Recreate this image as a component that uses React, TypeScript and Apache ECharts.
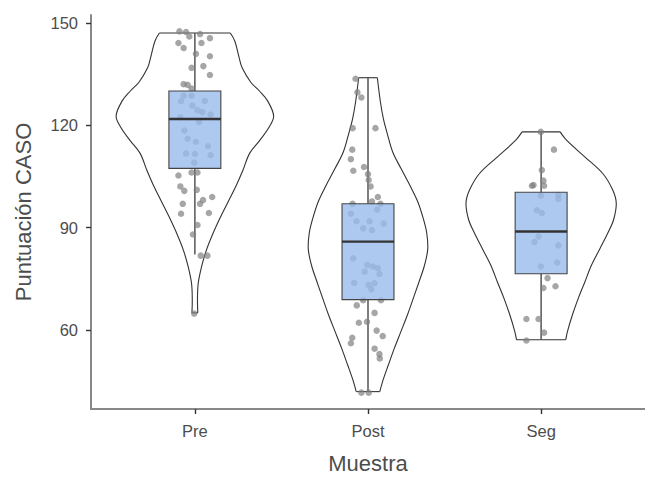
import React, { useEffect, useRef } from "react";
import * as echarts from "echarts";

const categories = ["Pre", "Post", "Seg"];
const yTicks = [60, 90, 120, 150];

// box statistics: [lower whisker, q1, median, q3, upper whisker]
const boxPre = [82.1, 107.4, 121.9, 130.1, 147.1];
const boxPost = [41.9, 68.9, 85.9, 97.0, 134.0];
const boxSeg = [57.1, 76.5, 88.9, 100.4, 118.1];

// violin outlines: [value, half width in category units]
const violinPre = [
  [147.1, 0.205], [144.7, 0.231], [139.8, 0.256], [136.9, 0.273], [132.6, 0.324],
  [130.1, 0.373], [127.2, 0.42], [122.8, 0.455], [119.6, 0.43], [115.6, 0.375],
  [111.8, 0.316], [106.9, 0.278], [102.6, 0.241], [97.7, 0.193], [92.9, 0.146],
  [88.0, 0.102], [83.2, 0.065], [78.4, 0.038], [73.5, 0.019], [68.7, 0.015], [65.0, 0.017],
];
const violinPost = [
  [134.0, 0.054], [126.8, 0.072], [121.9, 0.089], [117.1, 0.114], [112.3, 0.142],
  [107.4, 0.19], [102.5, 0.241], [97.7, 0.287], [92.9, 0.318], [88.5, 0.339],
  [83.7, 0.345], [78.9, 0.326], [74.0, 0.294], [69.2, 0.261], [64.3, 0.227],
  [59.5, 0.19], [54.6, 0.152], [49.8, 0.118], [45.0, 0.085], [41.9, 0.068],
];
const violinSeg = [
  [118.1, 0.11], [115.6, 0.148], [110.8, 0.252], [105.9, 0.356], [101.1, 0.413],
  [97.2, 0.434], [92.4, 0.419], [88.5, 0.386], [83.7, 0.338], [78.9, 0.29],
  [74.0, 0.252], [69.2, 0.214], [64.3, 0.18], [59.5, 0.152], [57.1, 0.142],
];

// jittered observations: [horizontal jitter, value]
const dotsPre = [
  [-0.089, 147.6], [-0.051, 147.4], [-0.032, 146.1], [0.03, 146.8], [0.087, 145.6], [-0.095, 144.2],
  [-0.065, 142.7], [0.038, 144.2], [0.006, 141.0], [0.087, 140.3], [-0.019, 136.9], [0.049, 137.4],
  [0.087, 134.8], [-0.065, 132.1], [-0.042, 131.9], [-0.019, 130.8], [-0.065, 128.7], [-0.019, 128.7],
  [-0.08, 127.1], [0.057, 127.2], [-0.014, 125.8], [0.015, 124.5], [0.043, 123.9], [0.091, 123.2],
  [-0.084, 122.4], [0.024, 121.0], [-0.061, 118.5], [-0.042, 116.1], [0.006, 115.2], [0.076, 113.9],
  [-0.051, 111.8], [0.0, 111.6], [0.091, 111.3], [-0.004, 109.1], [-0.019, 106.2], [0.015, 106.2],
  [-0.095, 105.3], [-0.084, 102.1], [-0.061, 100.8], [0.011, 101.1], [0.1, 99.0], [0.047, 98.1],
  [0.03, 97.0], [-0.07, 97.0], [-0.08, 94.1], [0.081, 94.3], [0.015, 90.8], [-0.011, 88.0],
  [0.034, 81.8], [0.072, 81.8], [-0.004, 64.8],
];
const dotsPost = [
  [-0.072, 133.7], [-0.061, 129.7], [-0.038, 128.2], [-0.089, 119.2], [0.043, 119.2], [-0.091, 112.9],
  [-0.099, 110.1], [-0.085, 106.7], [-0.023, 107.8], [0.0, 105.7], [0.004, 104.0], [0.015, 102.1],
  [0.057, 99.0], [0.023, 97.7], [0.072, 97.0], [-0.089, 97.0], [0.053, 95.3], [-0.099, 94.1],
  [-0.066, 91.9], [0.009, 91.9], [0.091, 91.2], [-0.028, 89.8], [0.023, 89.3], [-0.085, 81.0],
  [-0.004, 79.1], [0.028, 78.6], [0.057, 78.1], [-0.019, 77.1], [0.066, 76.4], [-0.08, 73.8],
  [0.004, 73.2], [0.038, 73.7], [0.019, 71.9], [-0.028, 68.7], [0.075, 68.7], [-0.065, 67.2],
  [0.038, 65.0], [-0.053, 62.1], [-0.006, 62.4], [0.05, 59.8], [0.085, 58.2], [-0.091, 57.7],
  [-0.099, 56.1], [0.038, 54.5], [0.066, 52.9], [0.068, 51.6], [-0.038, 41.6], [0.004, 41.6],
];
const dotsSeg = [
  [-0.002, 118.1], [0.074, 112.9], [0.004, 106.9], [-0.044, 102.5], [-0.053, 102.3], [0.013, 103.8],
  [0.017, 102.3], [0.099, 99.6], [-0.002, 99.4], [0.099, 98.4], [-0.025, 95.1], [0.004, 94.3],
  [-0.015, 87.4], [-0.038, 85.8], [0.099, 84.8], [0.093, 79.8], [-0.002, 78.6], [0.037, 75.2],
  [0.013, 72.3], [0.083, 72.8], [-0.085, 63.2], [-0.015, 63.2], [0.017, 59.2], [-0.085, 56.9],
];

const boxes = [boxPre, boxPost, boxSeg];
const violins = [violinPre, violinPost, violinSeg];
const dots = [dotsPre, dotsPost, dotsSeg];

const BOX_HALF = 0.15;
const FONT = "'Liberation Sans', Arial, sans-serif";
const TEXT = "#4d4d4d";
const AXIS = "#888888";

export default function App() {
  const ref = useRef<HTMLDivElement>(null);
  useEffect(() => {
    if (!ref.current) return;
    const chart = echarts.init(ref.current, undefined, { renderer: "svg" });
    const scatterData: number[][] = [];
    dots.forEach((arr, i) => arr.forEach(([dx, v]) => scatterData.push([i + 1 + dx, v])));

    chart.setOption({
      animation: false,
      backgroundColor: "#ffffff",
      grid: { left: 91, top: 15, width: 563, height: 399 },
      xAxis: {
        type: "value",
        min: 0.4,
        max: 3.6,
        name: "Muestra",
        nameLocation: "middle",
        nameGap: 43,
        nameTextStyle: { fontFamily: FONT, fontSize: 22, color: TEXT },
        axisLine: { show: true, lineStyle: { color: AXIS, width: 2 } },
        axisTick: { show: true, length: 5, customValues: [1, 2, 3], lineStyle: { color: "#333", width: 1.4 } },
        axisLabel: {
          customValues: [1, 2, 3],
          formatter: (v: number) => categories[Math.round(v) - 1] || "",
          fontFamily: FONT,
          fontSize: 16.5,
          color: TEXT,
          margin: 13,
        },
        splitLine: { show: false },
      },
      yAxis: {
        type: "value",
        min: 36.8,
        max: 152.4,
        name: "Puntuación CASO",
        nameLocation: "middle",
        nameGap: 57,
        nameTextStyle: { fontFamily: FONT, fontSize: 22, color: TEXT },
        axisLine: { show: true, lineStyle: { color: AXIS, width: 2 } },
        axisTick: { show: true, length: 5, customValues: yTicks, lineStyle: { color: "#333", width: 1.4 } },
        axisLabel: {
          customValues: yTicks,
          fontFamily: FONT,
          fontSize: 16.5,
          color: TEXT,
          margin: 13,
        },
        splitLine: { show: false },
      },
      series: [
        {
          type: "custom",
          z: 1,
          data: boxes.map((b, i) => [i + 1, b[2]]),
          renderItem: (params: any, api: any) => {
            const i = params.dataIndex;
            const c = i + 1;
            const prof = violins[i];
            const b = boxes[i];
            const left = prof.map(([v, w]) => api.coord([c - w, v]));
            const right = prof.map(([v, w]) => api.coord([c + w, v]));
            const n = prof.length - 1;
            const lineStyle = { stroke: "#333333", lineWidth: 1.1, fill: "none" };
            const top = api.coord([c, b[4]]);
            const q3 = api.coord([c, b[3]]);
            const q1 = api.coord([c, b[1]]);
            const bot = api.coord([c, b[0]]);
            return {
              type: "group",
              children: [
                { type: "polyline", shape: { points: left, smooth: 0.35 }, style: lineStyle },
                { type: "polyline", shape: { points: right, smooth: 0.35 }, style: lineStyle },
                { type: "line", shape: { x1: left[0][0], y1: left[0][1], x2: right[0][0], y2: right[0][1] }, style: lineStyle },
                { type: "line", shape: { x1: left[n][0], y1: left[n][1], x2: right[n][0], y2: right[n][1] }, style: lineStyle },
                { type: "line", shape: { x1: top[0], y1: top[1], x2: q3[0], y2: q3[1] }, style: { stroke: "#555555", lineWidth: 1.5 } },
                { type: "line", shape: { x1: q1[0], y1: q1[1], x2: bot[0], y2: bot[1] }, style: { stroke: "#555555", lineWidth: 1.5 } },
              ],
            };
          },
        },
        {
          type: "scatter",
          z: 2,
          data: scatterData,
          symbol: "circle",
          symbolSize: 6.5,
          itemStyle: { color: "#808080", opacity: 0.7 },
        },
        {
          type: "custom",
          z: 3,
          data: boxes.map((b, i) => [i + 1, b[2]]),
          renderItem: (params: any, api: any) => {
            const i = params.dataIndex;
            const c = i + 1;
            const b = boxes[i];
            const p1 = api.coord([c - BOX_HALF, b[3]]);
            const p2 = api.coord([c + BOX_HALF, b[1]]);
            const m1 = api.coord([c - BOX_HALF, b[2]]);
            const m2 = api.coord([c + BOX_HALF, b[2]]);
            return {
              type: "group",
              children: [
                {
                  type: "rect",
                  shape: { x: p1[0], y: p1[1], width: p2[0] - p1[0], height: p2[1] - p1[1] },
                  style: { fill: "rgba(154,188,236,0.8)", stroke: "#444444", lineWidth: 1.1 },
                },
                {
                  type: "line",
                  shape: { x1: m1[0], y1: m1[1], x2: m2[0], y2: m2[1] },
                  style: { stroke: "#333333", lineWidth: 2.4 },
                },
              ],
            };
          },
        },
      ],
    });
    return () => chart.dispose();
  }, []);
  return <div ref={ref} style={{ position: "absolute", left: 0, top: 0, width: 645, height: 479 }} />;
}
